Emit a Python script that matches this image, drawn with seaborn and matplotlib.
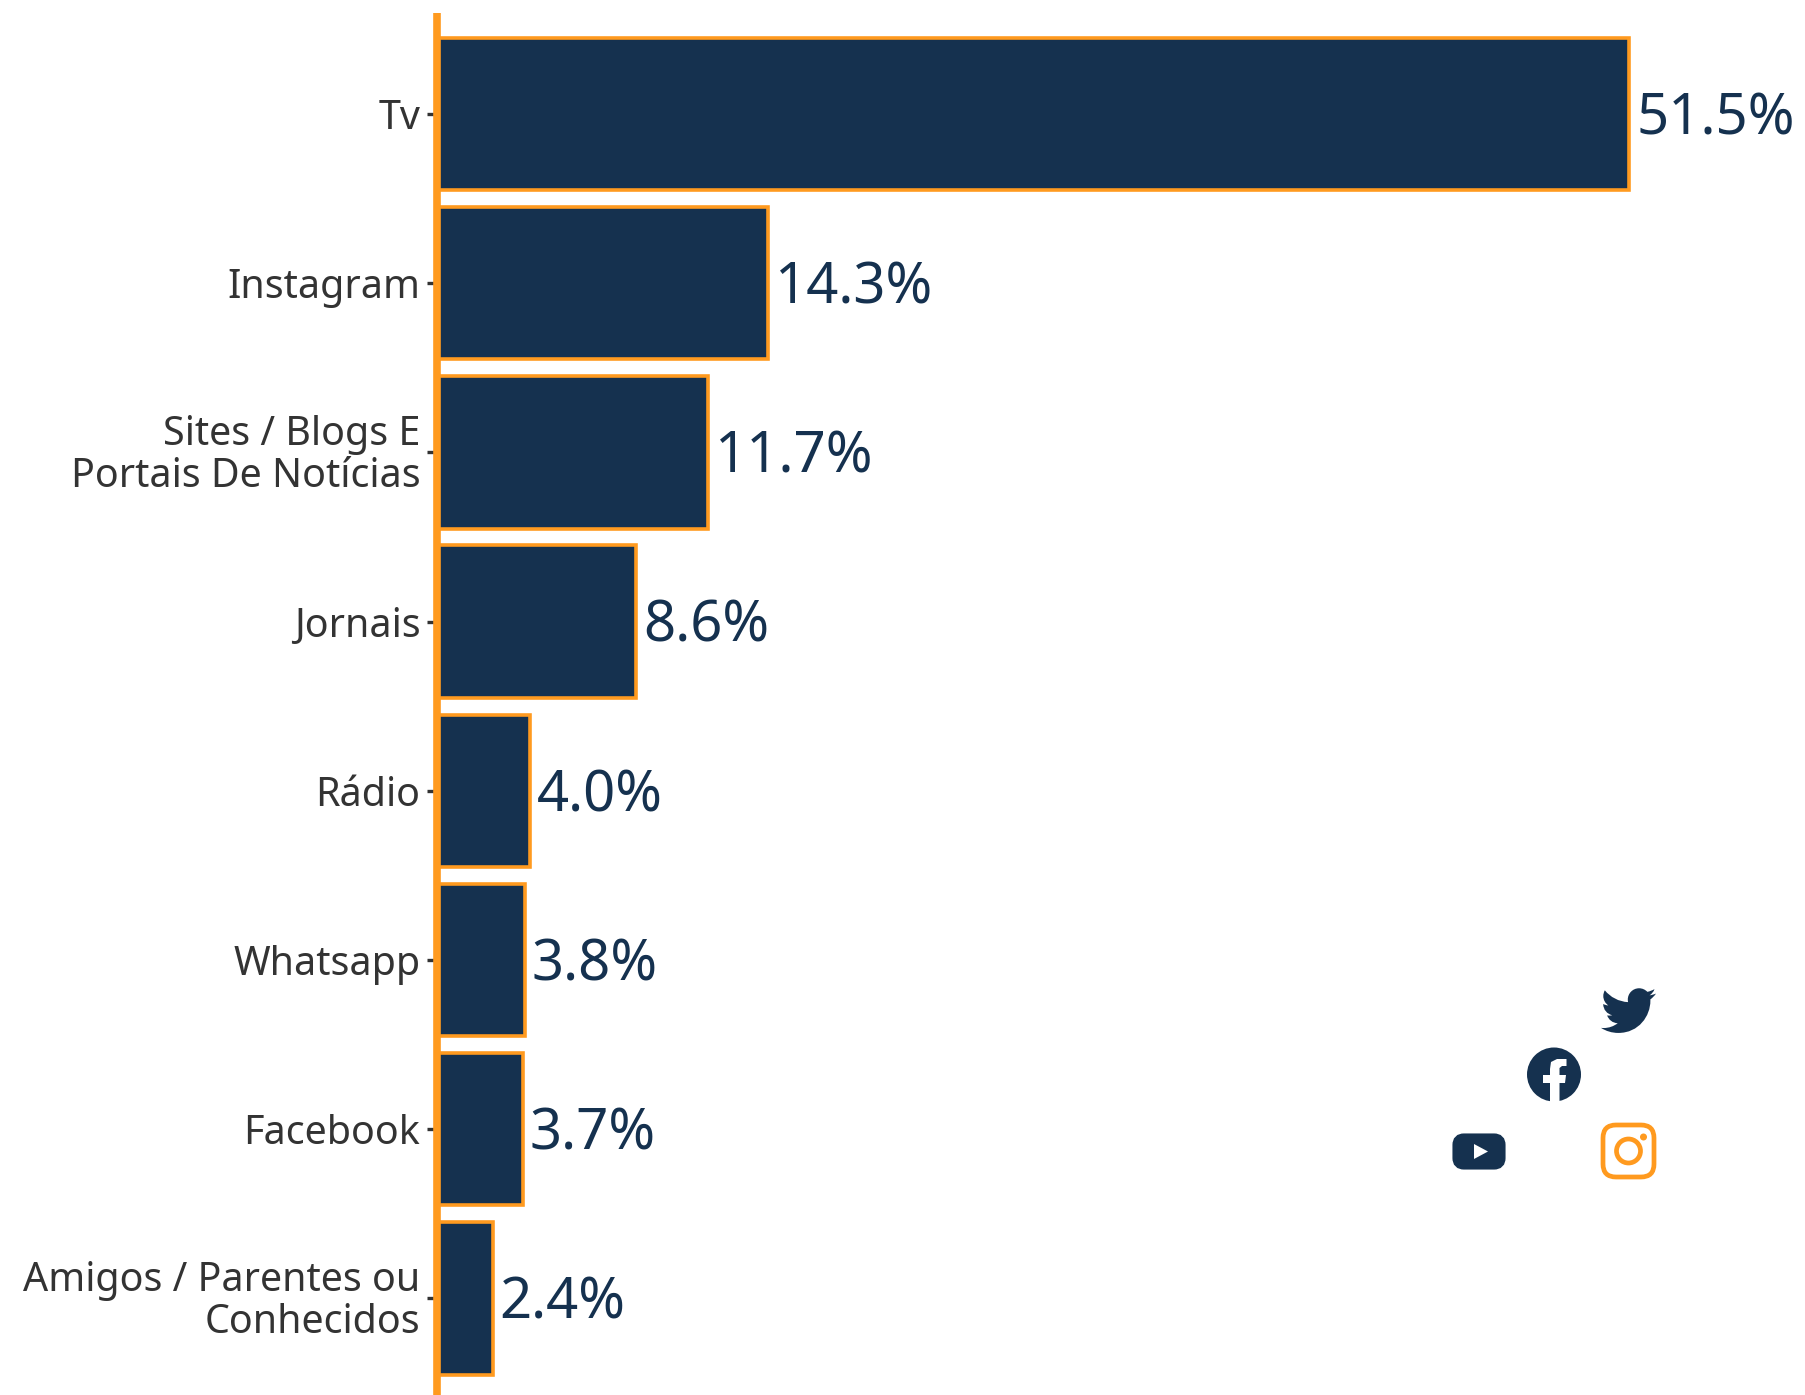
import re
import pandas as pd
import numpy as np
import matplotlib.pyplot as plt
import seaborn as sns
from matplotlib.path import Path
from matplotlib.patches import PathPatch, Circle, FancyBboxPatch, Polygon
from matplotlib.transforms import ScaledTranslation

# Data
categories = ['Tv', 'Instagram', 'Sites / Blogs E\nPortais De Notícias', 'Jornais', 'Rádio',
              'Whatsapp', 'Facebook', 'Amigos / Parentes ou\nConhecidos']
shares = [51.5, 14.3, 11.7, 8.6, 4.0, 3.8, 3.7, 2.4]

navy = '#15314F'
orange = '#FF9A1F'
W, H = 1806, 1395

sns.set_theme(style='white')
plt.rcParams['font.family'] = ['Noto Sans', 'DejaVu Sans']

data = pd.DataFrame({'canal': categories, 'share': shares})

fig = plt.figure(figsize=(W / 100, H / 100), dpi=100)
ax = fig.add_axes([437 / W, 0, (W - 437) / W, (H - 13) / H])

sns.barplot(data=data, x='share', y='canal', orient='h', color=navy, saturation=1,
            width=0.9, edgecolor=orange, linewidth=2.6, ax=ax)

pitch = 169.2
ax.set_ylim(7 + (H - 114 - 7 * pitch) / pitch, -(114 - 13) / pitch)
ax.set_xlim(0, (W - 437) / 23.15)

for i, v in enumerate(shares):
    ax.annotate(f'{v:.1f}%', (v, i), xytext=(5, -4.2), textcoords='offset points', va='center',
                ha='left', fontsize=40.5, color=navy, annotation_clip=False)

sns.despine(ax=ax, top=True, right=True, bottom=True)
ax.spines['left'].set_color(orange)
ax.spines['left'].set_linewidth(5.5)
ax.spines['left'].set_capstyle('butt')
ax.spines['left'].set_zorder(5)
ax.set_xlabel('')
ax.set_ylabel('')
ax.set_xticks([])
ax.tick_params(axis='y', left=True, length=7, width=2.4, color='#333333', pad=5)
for lab in ax.get_yticklabels():
    lab.set_fontsize(28.4)
    lab.set_color('#333333')
    lab.set_linespacing(1.06)
    # two-line labels sit a touch higher in the original
    if '\n' in lab.get_text():
        lab.set_transform(lab.get_transform() + ScaledTranslation(0, 2 / 100, fig.dpi_scale_trans))

# Social icons drawn on a pixel-sized overlay
icons = fig.add_axes([0, 0, 1, 1], facecolor='none')
icons.set_xlim(0, W)
icons.set_ylim(H, 0)
icons.axis('off')


def svg_path(d, x0, y0, scale):
    # small parser for the M/c/v/z commands used by the bird outline
    verts, codes = [], []
    cur = np.array([0.0, 0.0])
    for cmd, args in re.findall(r'([MmcvVzZ])([^MmcvVzZ]*)', d):
        nums = [float(n) for n in re.findall(r'-?\d*\.?\d+', args)]
        if cmd == 'M':
            cur = np.array(nums[:2])
            verts.append(cur.copy())
            codes.append(Path.MOVETO)
        elif cmd == 'c':
            for k in range(0, len(nums), 6):
                for j in (0, 2, 4):
                    verts.append(cur + nums[k + j:k + j + 2])
                    codes.append(Path.CURVE4)
                cur = cur + nums[k + 4:k + 6]
        elif cmd == 'v':
            for n in nums:
                cur = cur + [0, n]
                verts.append(cur.copy())
                codes.append(Path.LINETO)
        elif cmd in 'zZ':
            verts.append(cur.copy())
            codes.append(Path.CLOSEPOLY)
    return Path(np.array(verts) * scale + [x0, y0], codes)


bird = ('M459.37 151.716c.325 4.548.325 9.097.325 13.645 0 138.72-105.583 298.558-298.558 298.558'
        '-59.452 0-114.68-17.219-161.137-47.106 8.447.974 16.568 1.299 25.34 1.299 49.055 0 94.213'
        '-16.568 130.274-44.832-46.132-.975-84.792-31.188-98.112-72.772 6.498.974 12.995 1.624 19.818'
        ' 1.624 9.421 0 18.843-1.3 27.614-3.573-48.081-9.747-84.143-51.98-84.143-102.985v-1.299'
        'c13.969 7.797 30.214 12.67 47.431 13.319-28.264-18.843-46.781-51.005-46.781-87.391 0-19.492'
        ' 5.197-37.36 14.294-52.954 51.655 63.675 129.3 105.258 216.365 109.807-1.624-7.797-2.599'
        '-15.918-2.599-24.04 0-57.828 46.782-104.934 104.934-104.934 30.213 0 57.502 12.67 76.67 33.137'
        ' 23.715-4.548 46.456-13.32 66.599-25.34-7.798 24.366-24.366 44.833-46.132 57.827 21.117-2.273'
        ' 41.584-8.122 60.426-16.243-14.292 20.791-32.161 39.308-52.628 54.253z')
s = 55 / 512
icons.add_patch(PathPatch(svg_path(bird, 1601, 988 - 48 * s * 0.95, s), fc=navy, ec='none'))

# facebook
icons.add_patch(Circle((1554, 1074.5), 27, fc=navy, ec='none'))
f_verts = [(1550, 1103), (1550, 1083), (1543, 1083), (1543, 1075), (1550, 1075), (1550, 1069),
           (1551, 1062), (1557, 1059), (1566.5, 1059), (1566.5, 1066), (1562, 1066), (1559.5, 1068),
           (1559.5, 1075), (1566, 1075), (1565, 1083), (1559.5, 1083), (1559.5, 1103)]
icons.add_patch(Polygon(f_verts, closed=True, fc='white', ec='none'))

# youtube
icons.add_patch(FancyBboxPatch((1458, 1139), 42, 25, boxstyle='round,pad=0,rounding_size=6',
                               mutation_aspect=1, fc=navy, ec=navy, lw=8))
icons.add_patch(Polygon([(1474, 1144), (1488, 1151.5), (1474, 1159)], closed=True, fc='white', ec='none'))

# instagram
icons.add_patch(FancyBboxPatch((1603, 1125), 51, 52, boxstyle='round,pad=0,rounding_size=13',
                               fc='none', ec=orange, lw=3.4))
icons.add_patch(Circle((1628.5, 1151), 12, fc='none', ec=orange, lw=3.4))
icons.add_patch(Circle((1643.5, 1137), 3.5, fc=orange, ec='none'))

fig.savefig('out.png', dpi=100)
